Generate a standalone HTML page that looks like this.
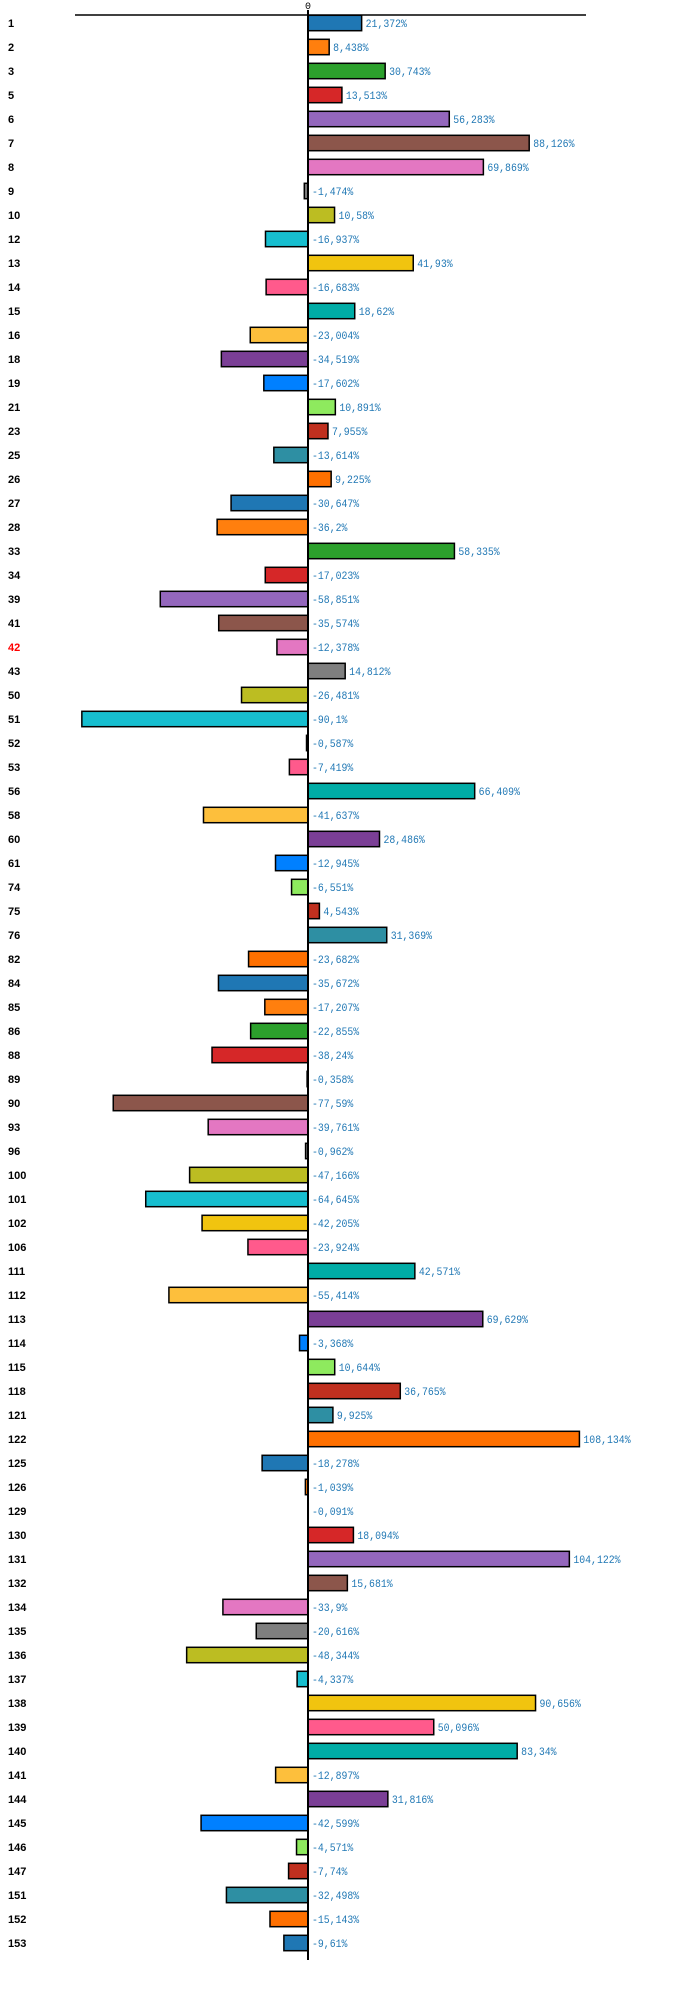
<!DOCTYPE html>
<html><head><meta charset="utf-8"><style>
html,body{margin:0;padding:0;background:#fff;}
svg{display:block;}
</style></head><body>
<svg id="chart" width="700" height="1989" xmlns="http://www.w3.org/2000/svg">
<line x1="75" y1="15" x2="586" y2="15" stroke="#000" stroke-width="1.5"/>
<text x="308" y="9" font-family="Liberation Mono, monospace" font-size="10" text-anchor="middle">0</text>
<g id="bars"></g>
<line x1="308" y1="10" x2="308" y2="1960" stroke="#000" stroke-width="2"/>
</svg>
<script>
const categories = ["1","2","3","5","6","7","8","9","10","12","13","14","15","16","18","19","21","23","25","26","27","28","33","34","39","41","42","43","50","51","52","53","56","58","60","61","74","75","76","82","84","85","86","88","89","90","93","96","100","101","102","106","111","112","113","114","115","118","121","122","125","126","129","130","131","132","134","135","136","137","138","139","140","141","144","145","146","147","151","152","153"];
const values = [21.372,8.438,30.743,13.513,56.283,88.126,69.869,-1.474,10.58,-16.937,41.93,-16.683,18.62,-23.004,-34.519,-17.602,10.891,7.955,-13.614,9.225,-30.647,-36.2,58.335,-17.023,-58.851,-35.574,-12.378,14.812,-26.481,-90.1,-0.587,-7.419,66.409,-41.637,28.486,-12.945,-6.551,4.543,31.369,-23.682,-35.672,-17.207,-22.855,-38.24,-0.358,-77.59,-39.761,-0.962,-47.166,-64.645,-42.205,-23.924,42.571,-55.414,69.629,-3.368,10.644,36.765,9.925,108.134,-18.278,-1.039,-0.091,18.094,104.122,15.681,-33.9,-20.616,-48.344,-4.337,90.656,50.096,83.34,-12.897,31.816,-42.599,-4.571,-7.74,-32.498,-15.143,-9.61];
const highlighted = ["42"];
const palette = ["#1f77b4","#ff7f0e","#2ca02c","#d62728","#9467bd","#8c564b","#e377c2","#7f7f7f","#bcbd22","#17becf","#f1c40f","#ff5a8c","#00aca6","#fdbf3c","#7b3f96","#0080ff","#8eea5e","#c0301f","#2e8fa3","#ff7000"];

const X0 = 308, SCALE = 2.51, Y0 = 23, PITCH = 24, BH = 15.4;
const xs = v => X0 + v * SCALE;
const ys = i => Y0 + i * PITCH;
const NS = "http://www.w3.org/2000/svg";
const g = document.getElementById("bars");
function fmt(v){ return String(v).replace(".", ",") + "%"; }
categories.forEach((c, i) => {
  const v = values[i];
  const cy = ys(i);
  const x1 = Math.min(xs(0), xs(v)), w = Math.abs(xs(v) - xs(0));
  const r = document.createElementNS(NS, "rect");
  
  
  r.setAttribute("x", x1); r.setAttribute("y", cy - BH / 2);
  r.setAttribute("width", Math.max(w, 0.5)); r.setAttribute("height", BH);
  r.setAttribute("fill", palette[i % palette.length]);
  r.setAttribute("stroke", "#000"); r.setAttribute("stroke-width", "1.5");
  g.appendChild(r);
  const lab = document.createElementNS(NS, "text");
  
  
  lab.setAttribute("x", 8); lab.setAttribute("y", cy + 4);
  lab.setAttribute("font-family", "Liberation Sans, sans-serif");
  lab.setAttribute("font-size", "11"); lab.setAttribute("font-weight", "bold");
  lab.setAttribute("fill", highlighted.includes(c) ? "#ff0000" : "#000");
  lab.textContent = c;
  g.appendChild(lab);
  const t = fmt(v);
  const vl = document.createElementNS(NS, "text");
  
  
  vl.setAttribute("x", (v > 0 ? xs(v) : xs(0)) + 4); vl.setAttribute("y", cy + 4);
  vl.setAttribute("font-family", "Liberation Mono, monospace");
  vl.setAttribute("font-size", "11");
  vl.setAttribute("fill", "#1f77b4");
  vl.setAttribute("textLength", t.length * 5.9);
  vl.setAttribute("lengthAdjust", "spacingAndGlyphs");
  vl.textContent = t;
  g.appendChild(vl);
});
</script>
</body></html>
